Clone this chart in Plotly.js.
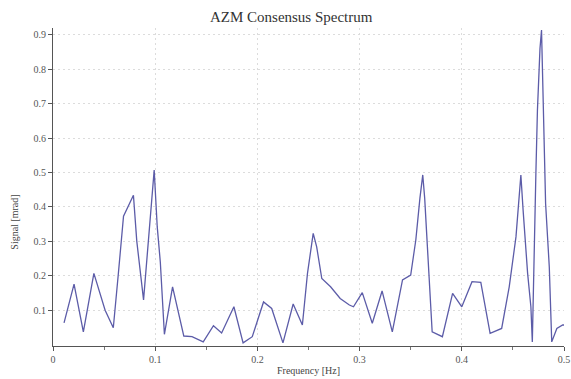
<!DOCTYPE html>
<html>
<head>
<meta charset="utf-8">
<script src="https://cdn.plot.ly/plotly-3.0.1.min.js"></script>
<style>
  html, body { margin: 0; padding: 0; background: #ffffff; }
  #chart { width: 571px; height: 379px; }
</style>
</head>
<body>
<div id="chart"></div>
<script>
// Azimuth consensus spectrum: frequency (Hz) vs. signal amplitude
const frequency = [
  0.0108, 0.0206, 0.0297, 0.040, 0.051, 0.059, 0.064, 0.069, 0.0787, 0.082,
  0.0886, 0.095, 0.099, 0.102, 0.105, 0.109, 0.117, 0.128, 0.136, 0.147,
  0.157, 0.165, 0.177, 0.186, 0.195, 0.206, 0.214, 0.225, 0.235, 0.244,
  0.249, 0.2546, 0.258, 0.263, 0.2716, 0.281, 0.290, 0.294, 0.3026, 0.3124,
  0.322, 0.332, 0.342, 0.350, 0.355, 0.359, 0.3618, 0.3637, 0.367, 0.371,
  0.381, 0.391, 0.400, 0.410, 0.4186, 0.4277, 0.439, 0.4464, 0.453, 0.4578,
  0.460, 0.4644, 0.4676, 0.469, 0.4725, 0.474, 0.4765, 0.478, 0.482, 0.4856,
  0.488, 0.493, 0.4987, 0.500
];
const signal = [
  0.063, 0.176, 0.037, 0.207, 0.100, 0.049, 0.208, 0.373, 0.434, 0.300,
  0.130, 0.376, 0.507, 0.342, 0.240, 0.030, 0.168, 0.025, 0.023, 0.008,
  0.055, 0.034, 0.110, 0.005, 0.023, 0.124, 0.105, 0.005, 0.118, 0.057,
  0.207, 0.323, 0.284, 0.192, 0.168, 0.134, 0.115, 0.110, 0.151, 0.062,
  0.156, 0.037, 0.188, 0.202, 0.304, 0.425, 0.493, 0.425, 0.255, 0.037,
  0.023, 0.149, 0.110, 0.183, 0.181, 0.033, 0.047, 0.168, 0.313, 0.493,
  0.390, 0.207, 0.110, 0.008, 0.500, 0.680, 0.860, 0.914, 0.410, 0.226,
  0.008, 0.047, 0.057, 0.057
];
const xTicks = [0, 0.1, 0.2, 0.3, 0.4, 0.5];
const xTickText = ['0', '0.1', '0.2', '0.3', '0.4', '0.5'];
const yTicks = [0.1, 0.2, 0.3, 0.4, 0.5, 0.6, 0.7, 0.8, 0.9];
const yTickText = ['0.1', '0.2', '0.3', '0.4', '0.5', '0.6', '0.7', '0.8', '0.9'];

const serif = 'Liberation Serif, Times New Roman, serif';

const trace = {
  x: frequency,
  y: signal,
  type: 'scatter',
  mode: 'lines',
  line: { color: '#5c5ca8', width: 1.3 },
  hoverinfo: 'x+y'
};

const layout = {
  width: 571,
  height: 379,
  margin: { l: 53, r: 7, t: 28, b: 33 },
  paper_bgcolor: '#ffffff',
  plot_bgcolor: '#ffffff',
  showlegend: false,
  title: {
    text: 'AZM Consensus Spectrum',
    font: { family: serif, size: 15, color: '#333333' },
    x: 0.51, xanchor: 'center',
    y: 0.955, yanchor: 'middle'
  },
  xaxis: {
    range: [0, 0.5],
    tickvals: xTicks,
    ticktext: xTickText,
    ticks: 'outside',
    ticklen: 4,
    tickcolor: '#555555',
    tickfont: { family: serif, size: 10, color: '#555555' },
    showline: true,
    linecolor: '#555555',
    linewidth: 1,
    showgrid: true,
    gridcolor: '#dcdcdc',
    griddash: '2px,3px',
    gridwidth: 1,
    zeroline: false,
    minor: { dtick: 0.05, ticks: 'outside', ticklen: 3, tickcolor: '#777777', showgrid: false },
    title: {
      text: 'Frequency [Hz]',
      font: { family: serif, size: 10, color: '#444444' },
      standoff: 2
    }
  },
  yaxis: {
    range: [-0.004, 0.92],
    tickvals: yTicks,
    ticktext: yTickText,
    ticks: 'outside',
    ticklen: 4,
    tickcolor: '#555555',
    tickfont: { family: serif, size: 10, color: '#555555' },
    showline: true,
    linecolor: '#555555',
    linewidth: 1,
    showgrid: true,
    gridcolor: '#dcdcdc',
    griddash: '2px,3px',
    gridwidth: 1,
    zeroline: false
  },
  annotations: [{
    text: 'Signal [mrad]',
    xref: 'paper', yref: 'paper',
    x: -0.075, y: 0.39,
    xanchor: 'center', yanchor: 'middle',
    textangle: -90,
    showarrow: false,
    font: { family: serif, size: 10, color: '#444444' }
  }]
};

Plotly.newPlot('chart', [trace], layout, { displayModeBar: false, staticPlot: true });
</script>
</body>
</html>
